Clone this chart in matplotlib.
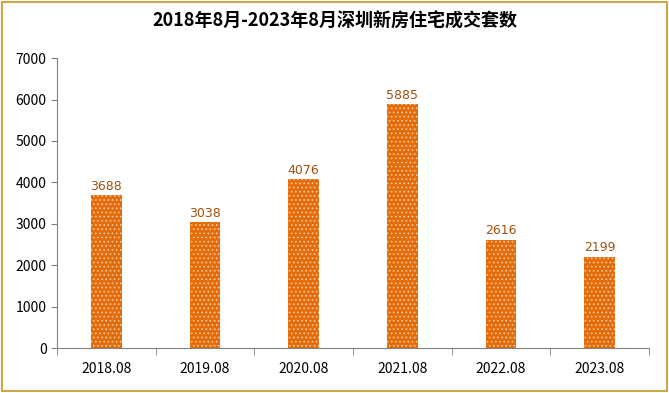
import matplotlib
matplotlib.use('Agg')
import matplotlib.pyplot as plt
from matplotlib.patches import Rectangle

plt.rcParams['font.family'] = ['Noto Sans CJK SC', 'DejaVu Sans']
plt.rcParams['hatch.linewidth'] = 0.7

years = ['2018.08', '2019.08', '2020.08', '2021.08', '2022.08', '2023.08']
sales = [3688, 3038, 4076, 5885, 2616, 2199]
title = '2018年8月-2023年8月深圳新房住宅成交套数'

fig = plt.figure(figsize=(6.69, 3.93), dpi=100)
fig.patches.append(Rectangle((0.003, 0.004), 0.994, 0.992, transform=fig.transFigure,
                             fill=False, edgecolor='#c9a84a', linewidth=1.5))
ax = fig.add_axes([0.0852, 0.1145, 0.8848, 0.7375])

x = list(range(len(years)))
bars = ax.bar(x, sales, width=0.31, color='#e46c0a', edgecolor='#f5c89a',
              linewidth=0, hatch='....')
for xi, v in zip(x, sales):
    ax.text(xi, v + 60, str(v), ha='center', va='bottom', fontsize=9,
            color='#a0500f', family='DejaVu Sans')

ax.set_xlim(-0.5, 5.5)
ax.set_ylim(0, 7000)
ax.set_yticks(range(0, 7001, 1000))
ax.set_xticks(x)
ax.set_xticklabels(years, fontsize=10)
ax.set_xticks([i - 0.5 for i in range(len(years) + 1)], minor=True)
ax.tick_params(axis='x', which='major', length=0, pad=10)
ax.tick_params(axis='x', which='minor', length=5, color='#808080')
ax.tick_params(axis='y', length=4, color='#808080', labelsize=10)
for s in ['top', 'right']:
    ax.spines[s].set_visible(False)
ax.spines['left'].set_color('#808080')
ax.spines['bottom'].set_color('#808080')

fig.text(0.5, 0.945, title, ha='center', va='center', fontsize=13, fontweight='bold')

fig.savefig('out.png', dpi=100)
